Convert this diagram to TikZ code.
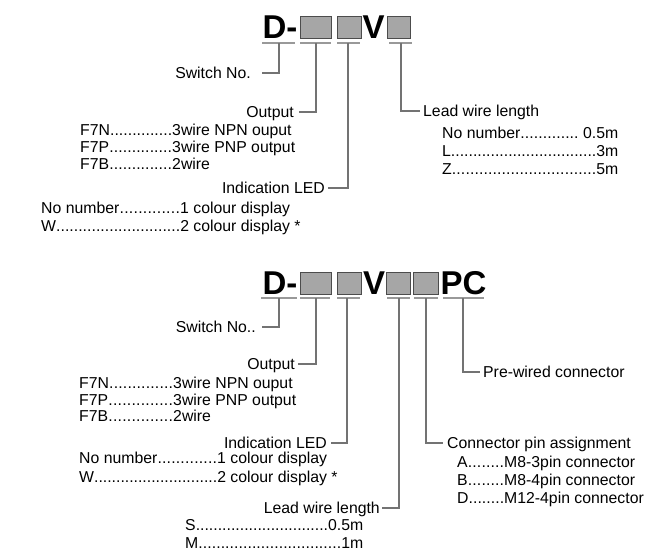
\documentclass[tikz,border=0pt]{standalone}
\usepackage{fontspec}
\setmainfont{Liberation Sans}
\newcommand{\dotlead}[3]{\hbox to #1{#2\xleaders\hbox{.}\hfill #3}}
\begin{document}
\begin{tikzpicture}[x=1pt,y=-1pt,
  lab/.style={inner xsep=4pt,inner ysep=0pt,text height=11.3pt,text depth=0pt,font=\fontsize{15.8}{18}\selectfont},
  opt/.style={inner sep=0pt,anchor=west,text height=11.3pt,text depth=0pt,font=\fontsize{15.8}{18}\selectfont},
  code/.style={inner sep=0pt,anchor=base,font=\fontsize{33}{36}\selectfont\bfseries},
  blank/.style={draw=black!70,fill=black!35,line width=0.8pt},
  uline/.style={draw=black!40,line width=2pt},
  hook/.style={draw=black!55,line width=1.1pt}]
\useasboundingbox (0,0) rectangle (650,551);
% first code
\node[code](d1) at (280,38) {D-};
\node[code](v1) at (373.5,38) {V};
\draw[blank] (300,16) rectangle (331,38);
\draw[blank] (337,16) rectangle (361,38);
\draw[blank] (387,16) rectangle (410,38);
\draw[uline] (262,43) -- (295,43);
\draw[uline] (300,43) -- (331,43);
\draw[uline] (337,43) -- (360,43);
\draw[uline] (389,43) -- (412,43);
\coordinate (t10) at (279,43);
\coordinate (t11) at (316,43);
\coordinate (t12) at (348,43);
\coordinate (t13) at (401,43);
\node[lab,anchor=east,inner xsep=11pt](sw1) at (262,73) {Switch No.};
\node[lab,anchor=east,inner xsep=5pt](ou1) at (299,112) {Output};
\node[opt](o11) at (80,130) {\dotlead{92pt}{F7N}{}3wire NPN ouput};
\node[opt](o12) at (80,147) {\dotlead{92pt}{F7P}{}3wire PNP output};
\node[opt](o13) at (80,164) {\dotlead{92pt}{F7B}{}2wire};
\node[lab,anchor=east,inner xsep=3pt](led1) at (328,188) {Indication LED};
\node[opt](e11) at (41,208) {\dotlead{139pt}{No number}{}1 colour display};
\node[opt](e12) at (41,226) {\dotlead{139pt}{W}{}2 colour display *};
\node[lab,anchor=west,inner xsep=3pt](lw1) at (420,111) {Lead wire length};
\node[opt](w11) at (442,133) {\dotlead{176pt}{No number}{\ 0.5m}};
\node[opt](w12) at (442,151) {\dotlead{176pt}{L}{3m}};
\node[opt](w13) at (442,169) {\dotlead{176pt}{Z}{5m}};
\draw[hook] (t10) |- (sw1.east);
\draw[hook] (t11) |- (ou1.east);
\draw[hook] (t12) |- (led1.east);
\draw[hook] (t13) |- (lw1.west);
% second code
\node[code](d2) at (280,294) {D-};
\node[code](v2) at (374,294) {V};
\node[code](p2) at (463.5,294) {PC};
\draw[blank] (300,272) rectangle (331,294);
\draw[blank] (337,272) rectangle (361,294);
\draw[blank] (386,272) rectangle (410,294);
\draw[blank] (413,272) rectangle (438,294);
\draw[uline] (261,298) -- (297,298);
\draw[uline] (300,298) -- (330,298);
\draw[uline] (337,298) -- (360,298);
\draw[uline] (387,298) -- (410,298);
\draw[uline] (414,298) -- (438,298);
\draw[uline] (443,298) -- (484,298);
\coordinate (t20) at (279,298);
\coordinate (t21) at (316,298);
\coordinate (t22) at (347,298);
\coordinate (t23) at (399,298);
\coordinate (t24) at (426,298);
\coordinate (t25) at (463,298);
\node[lab,anchor=east,inner xsep=6pt](sw2) at (262,327) {Switch No..};
\node[lab,anchor=east,inner xsep=3pt](ou2) at (298,364) {Output};
\node[opt](o21) at (79,383) {\dotlead{94pt}{F7N}{}3wire NPN ouput};
\node[opt](o22) at (79,400) {\dotlead{94pt}{F7P}{}3wire PNP output};
\node[opt](o23) at (79,416) {\dotlead{94pt}{F7B}{}2wire};
\node[lab,anchor=east,inner xsep=4pt](led2) at (331,443) {Indication LED};
\node[opt](e21) at (79,458) {\dotlead{138pt}{No number}{}1 colour display};
\node[opt](e22) at (79,477) {\dotlead{138pt}{W}{}2 colour display *};
\node[lab,anchor=east,inner xsep=2pt](lw2) at (382,508) {Lead wire length};
\node[opt](w21) at (185,525) {\dotlead{178pt}{S}{0.5m}};
\node[opt](w22) at (185,543) {\dotlead{178pt}{M}{1m}};
\node[lab,anchor=west,inner xsep=4pt](cp2) at (443,443) {Connector pin assignment};
\node[opt](c21) at (457,462) {\dotlead{47pt}{A}{}M8-3pin connector};
\node[opt](c22) at (457,480) {\dotlead{47pt}{B}{}M8-4pin connector};
\node[opt](c23) at (457,498) {\dotlead{47pt}{D}{}M12-4pin connector};
\node[lab,anchor=west,inner xsep=3pt](pc2) at (480,372) {Pre-wired connector};
\draw[hook] (t20) |- (sw2.east);
\draw[hook] (t21) |- (ou2.east);
\draw[hook] (t22) |- (led2.east);
\draw[hook] (t23) |- (lw2.east);
\draw[hook] (t24) |- (cp2.west);
\draw[hook] (t25) |- (pc2.west);
\end{tikzpicture}
\end{document}
